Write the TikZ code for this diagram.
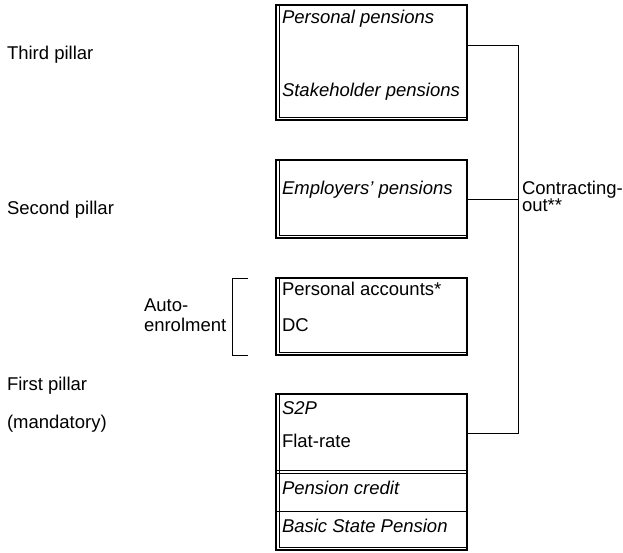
\documentclass[tikz,border=0pt]{standalone}
\usepackage{fontspec}
\setmainfont{Liberation Sans}
\usetikzlibrary{positioning}

\begin{document}
\begin{tikzpicture}[x=1pt, y=-1pt,
    every node/.style={inner sep=0pt, outer sep=0pt, font=\fontsize{18.5}{21}\selectfont},
  pillar/.style={draw, line width=1.7pt, minimum width=191pt, anchor=north west},
  txt/.style={anchor=base west},
  link/.style={line width=0.9pt},
  ]
  \useasboundingbox (0,0) rectangle (623,552);

  % the four boxes
  \node[pillar, minimum height=115pt] (third)  at (276,5)   {};
  \node[pillar, minimum height=78pt]  (second) at (276,160) {};
  \node[pillar, minimum height=77pt]  (auto)   at (276,278) {};
  \node[pillar, minimum height=156pt] (first)  at (276,394) {};

  \foreach \b in {third,second,auto,first}
    \draw[line width=0.6pt] ([xshift=3pt]\b.north west) |- ([yshift=3pt]\b.south east);

  \draw[line width=0.6pt] (first.west |- 0,470) -- (first.east |- 0,470);
  \draw[line width=0.6pt] (first.west |- 0,473) -- (first.east |- 0,473);
  \draw[line width=0.6pt] (first.west |- 0,511) -- (first.east |- 0,511);

  % texts in the boxes
  \node[txt] (pers)  at (282,23)  {\itshape Personal pensions};
  \node[txt] (stake) at (282,96)  {\itshape Stakeholder pensions};
  \node[txt] (empl)  at (282,194) {\itshape Employers' pensions};
  \node[txt] (acc)   at (282,295) {Personal accounts*};
  \node[txt] (dc)    at (282,331) {DC};
  \node[txt] (s2p)   at (282,414) {\itshape S2P};
  \node[txt] (flat)  at (282,447) {Flat-rate};
  \node[txt] (cred)  at (282,494) {\itshape Pension credit};
  \node[txt] (bsp)   at (282,532) {\itshape Basic State Pension};

  % pillar labels
  \node[txt] (p3)   at (7,59)   {Third pillar};
  \node[txt] (p2)   at (7,214)  {Second pillar};
  \node[txt] (p1)   at (7,390)  {First pillar};
  \node[txt] (mand) at (7,428)  {(mandatory)};
  \node[txt] (ae1)  at (144,311) {Auto-};
  \node[txt] (ae2)  at (144,331) {enrolment};

  % contracting-out
  \coordinate (jtop) at (518,45);
  \coordinate (jbot) at (518,433);
  \draw[link] (third.east |- jtop) -- (jtop) -- (jbot) -- (first.east |- jbot);
  \draw[link] (second.east) -- (second.east -| jtop);
  \node[txt] (co1) at (522,194) {Contracting-};
  \node[txt] (co2) at (522,211) {out**};

  % bracket
  \draw[link] ([xshift=-28pt]auto.north west) -- ++(-16,0) |- ([xshift=-28pt]auto.south west);

\end{tikzpicture}
\end{document}
